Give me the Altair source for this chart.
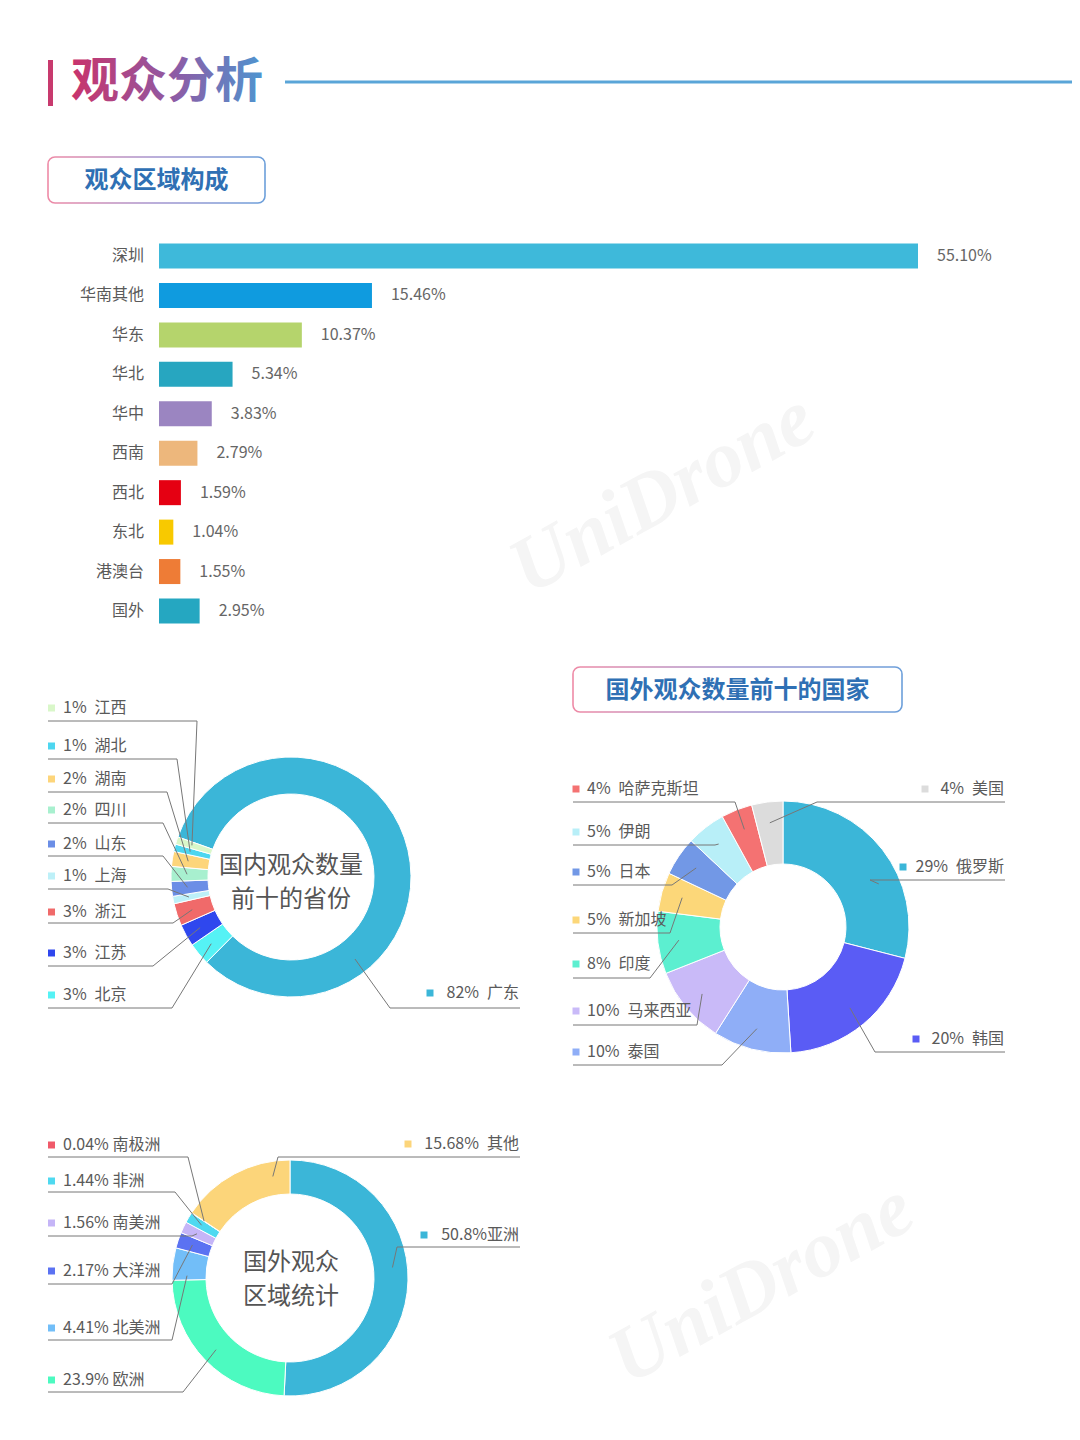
import math
import altair as alt
import pandas as pd

# ---------------- data ----------------
bar_cats = ["深圳", "华南其他", "华东", "华北", "华中", "西南", "西北", "东北", "港澳台", "国外"]
bar_vals = [55.10, 15.46, 10.37, 5.34, 3.83, 2.79, 1.59, 1.04, 1.55, 2.95]
bar_cols = ["#3EB9DA", "#0F9BDF", "#B5D46C", "#27A6C0", "#9B85C1",
            "#EDB77C", "#E50012", "#F8C900", "#EE7C36", "#25A7C1"]

prov_names = ["广东", "北京", "江苏", "浙江", "上海", "山东", "四川", "湖南", "湖北", "江西"]
prov_vals = [82, 3, 3, 3, 1, 2, 2, 2, 1, 1]
prov_cols = ["#3BB6D8", "#55F2F5", "#2F47EE", "#F06A6A", "#BDF0F8",
             "#6B8EE6", "#A8F0CF", "#FDD57A", "#4DD6F0", "#D9F7C9"]

cty_names = ["俄罗斯", "韩国", "泰国", "马来西亚", "印度", "新加坡", "日本", "伊朗", "哈萨克斯坦", "美国"]
cty_vals = [29, 20, 10, 10, 8, 5, 5, 5, 4, 4]
cty_cols = ["#3BB6D8", "#5A5CF5", "#8FAEF7", "#C9BAF8", "#5CEFD0",
            "#FCD779", "#7298E6", "#B8EFF8", "#F47272", "#DCDCDC"]

reg_names = ["亚洲", "欧洲", "北美洲", "大洋洲", "南美洲", "非洲", "南极洲", "其他"]
reg_vals = [50.8, 23.9, 4.41, 2.17, 1.56, 1.44, 0.04, 15.68]
reg_cols = ["#3BB6D8", "#4CFAC0", "#72BEF8", "#5B72F2", "#C5B5F7", "#4FD9F0", "#F05A6A", "#FCD57A"]

# ---------------- layout (page pixels) ----------------
W, H = 1064, 1424
OFF = 8


def P(v):
    return v - OFF


PX = alt.Scale(domain=[0, W], range=[0, W], nice=False, zero=False)
PY = alt.Scale(domain=[0, H], range=[0, H], nice=False, zero=False)
FONT = "Noto Sans CJK SC"
TXT = "#5a5a5a"
LFS = 16
SP = "\u2002"

# donut geometry: cx, cy, r_out, r_in, start angle (deg), anchor radius
geo_prov = (291, 877, 120, 83, -70.5, 104)
geo_cty = (783, 927, 126, 63, 0.0, 105)
geo_reg = (290, 1278, 118, 84, 0.0, 103)

# per-slice label layout: side, text_y, line_y, elbow_x, anchor fraction, square x (right side)
lay_prov = [("R", 993, 1008, 390, 0.72, 430), ("L", 995, 1008, 172, 0.5, 0),
            ("L", 953, 966, 153, 0.5, 0), ("L", 912, 923, 173, 0.5, 0),
            ("L", 876, 889, 168, 0.5, 0), ("L", 844, 856, 163, 0.5, 0),
            ("L", 810, 823, 163, 0.5, 0), ("L", 779, 792, 167, 0.5, 0),
            ("L", 746, 759, 177, 0.5, 0), ("L", 708, 721, 197, 0.5, 0)]
lay_cty = [("R", 867, 880, 870, 0.63, 903), ("R", 1039, 1052, 875, 0.5, 916),
           ("L", 1052, 1065, 722, 0.5, 0), ("L", 1011, 1025, 697, 0.5, 0),
           ("L", 964, 978, 650, 0.5, 0), ("L", 920, 933, 670, 0.5, 0),
           ("L", 872, 885, 672, 0.5, 0), ("L", 832, 845, 715, 0.5, 0),
           ("L", 789, 802, 735, 0.5, 0), ("R", 789, 802, 817, 0.5, 925)]
lay_reg = [("R", 1235, 1247, 397, 0.46, 424), ("L", 1380, 1392, 183, 0.5, 0),
           ("L", 1328, 1340, 172, 0.15, 0), ("L", 1271, 1284, 172, 0.5, 0),
           ("L", 1223, 1236, 192, 0.5, 0), ("L", 1181, 1192, 175, 0.5, 0),
           ("L", 1145, 1157, 188, 0.5, 0), ("R", 1144, 1157, 278, 0.83, 408)]
seps_reg = ["", " ", " ", " ", " ", " ", " ", SP]

# label x positions: (left square x, left text x, left line start, right text end)
lx_prov = (51.5, 63, 48, 520)
lx_cty = (576, 587, 573, 1005)
lx_reg = (51.5, 63, 48, 520)

text_rows_L, text_rows_R, sq_rows, line_rows = [], [], [], []


def add_labels(key, names, vals, cols, texts, geo, lay, lx):
    cx, cy, ro, ri, start, ar = geo
    total = float(sum(vals))
    cum = 0.0
    for i, (n, v, c, t, L) in enumerate(zip(names, vals, cols, texts, lay)):
        side, ty, ly, ex, frac, sqx = L
        a0 = start + 360.0 * cum / total
        a1 = a0 + 360.0 * v / total
        cum += v
        a = math.radians(a0 + frac * (a1 - a0))
        ax, ay = cx + ar * math.sin(a), cy - ar * math.cos(a)
        k = f"{key}-{i}"
        if side == "L":
            text_rows_L.append({"x": P(lx[1]), "y": P(ty), "t": t})
            sq_rows.append({"x": P(lx[0]), "y": P(ty), "c": c})
            x0 = lx[2]
        else:
            text_rows_R.append({"x": P(lx[3] - 1), "y": P(ty), "t": t})
            sq_rows.append({"x": P(sqx), "y": P(ty), "c": c})
            x0 = lx[3]
        for s, (px_, py_) in enumerate([(x0, ly), (ex, ly), (ax, ay)]):
            line_rows.append({"k": k, "s": s, "x": P(px_), "y": P(py_)})


add_labels("p", prov_names, prov_vals, prov_cols,
           [f"{v}%{SP}{n}" for v, n in zip(prov_vals, prov_names)], geo_prov, lay_prov, lx_prov)
add_labels("c", cty_names, cty_vals, cty_cols,
           [f"{v}%{SP}{n}" for v, n in zip(cty_vals, cty_names)], geo_cty, lay_cty, lx_cty)
add_labels("r", reg_names, reg_vals, reg_cols,
           [f"{v:g}%{s}{n}" for v, s, n in zip(reg_vals, seps_reg, reg_names)], geo_reg, lay_reg, lx_reg)


def arc_layer(names, vals, cols, geo):
    cx, cy, ro, ri, start, ar = geo
    s = math.radians(start % 360)
    df = pd.DataFrame({"name": names, "v": vals, "col": cols, "idx": list(range(len(names)))})
    return alt.Chart(df).mark_arc(radius=ro, radius2=ri, stroke="white", strokeWidth=1).encode(
        theta=alt.Theta("v:Q", stack=True, scale=alt.Scale(range=[s, s + 2 * math.pi])),
        order=alt.Order("idx:Q"),
        color=alt.Color("col:N", scale=None),
        detail="name:N",
        x=alt.value(P(cx)), y=alt.value(P(cy)),
    )


one = pd.DataFrame({"a": [0]})

# ---------------- watermark ----------------
wm = pd.DataFrame({"x": [P(663), P(762)], "y": [P(494), P(1284)], "t": ["UniDrone", "UniDrone"]})
watermark = alt.Chart(wm).mark_text(angle=331, font="Liberation Serif", fontStyle="italic", fontWeight="bold",
                                    fontSize=80, color="#F5F5F5").encode(
    x=alt.X("x:Q", scale=PX, axis=None), y=alt.Y("y:Q", scale=PY, axis=None), text="t:N")

# ---------------- title ----------------
title_bar = alt.Chart(one).mark_rect(color="#C83A6E").encode(
    x=alt.value(P(48)), x2=alt.value(P(53)), y=alt.value(P(60)), y2=alt.value(P(106)))
title_text = alt.Chart(one).mark_text(
    text="观众分析", font=FONT, fontSize=48, fontWeight="bold", align="left", baseline="middle",
    color=alt.LinearGradient(gradient="linear", x1=0, x2=1, y1=0, y2=0,
                             stops=[alt.GradientStop(color="#C9336B", offset=0),
                                    alt.GradientStop(color="#8C5CA6", offset=0.55),
                                    alt.GradientStop(color="#4E95D0", offset=1)])).encode(
    x=alt.value(P(71)), y=alt.value(P(83)))
title_rule = alt.Chart(one).mark_rule(color="#5AA5D8", strokeWidth=3).encode(
    x=alt.value(P(285)), x2=alt.value(W), y=alt.value(P(82)))

BOX_STROKE = alt.LinearGradient(gradient="linear", x1=0, x2=1, y1=0, y2=0,
                                stops=[alt.GradientStop(color="#EE8AA6", offset=0),
                                       alt.GradientStop(color="#A394CF", offset=0.5),
                                       alt.GradientStop(color="#6C9FDA", offset=1)])


def box(x0, x1, y0, y1, text):
    r = alt.Chart(one).mark_rect(fill="white", stroke=BOX_STROKE, strokeWidth=1.6, cornerRadius=7).encode(
        x=alt.value(P(x0)), x2=alt.value(P(x1)), y=alt.value(P(y0)), y2=alt.value(P(y1)))
    t = alt.Chart(one).mark_text(text=text, font=FONT, fontSize=24, fontWeight="bold",
                                 color="#2F70B4", align="center", baseline="middle").encode(
        x=alt.value(P((x0 + x1) / 2)), y=alt.value(P((y0 + y1) / 2 + 1)))
    return [r, t]


# ---------------- bars ----------------
bar_df = pd.DataFrame({"cat": bar_cats, "val": bar_vals, "col": bar_cols,
                       "lbl": [f"{v:.2f}%" for v in bar_vals]})
BX = alt.Scale(domain=[0, max(bar_vals)], range=[P(159), P(918)], nice=False, zero=True)
BY = alt.Scale(domain=bar_cats, range=[P(236.28), P(630.72)], paddingInner=0.366, paddingOuter=0.183)
bars = alt.Chart(bar_df).mark_bar().encode(
    x=alt.X("val:Q", scale=BX, axis=None), y=alt.Y("cat:N", scale=BY, axis=None),
    color=alt.Color("col:N", scale=None))
bar_vals_txt = alt.Chart(bar_df).mark_text(align="left", baseline="middle", dx=19, font=FONT,
                                           fontSize=16, color="#666666").encode(
    x=alt.X("val:Q", scale=BX, axis=None), y=alt.Y("cat:N", scale=BY, axis=None), text="lbl:N")
bar_cat_txt = alt.Chart(bar_df).mark_text(align="right", baseline="middle", font=FONT,
                                          fontSize=16, color=TXT).encode(
    x=alt.value(P(144)), y=alt.Y("cat:N", scale=BY, axis=None), text="cat:N")

# ---------------- donuts ----------------
arc1 = arc_layer(prov_names, prov_vals, prov_cols, geo_prov)
arc2 = arc_layer(cty_names, cty_vals, cty_cols, geo_cty)
arc3 = arc_layer(reg_names, reg_vals, reg_cols, geo_reg)

center1 = alt.Chart(one).mark_text(text=["国内观众数量", "前十的省份"], lineHeight=34, font=FONT,
                                   fontSize=24, color="#555555", align="center", baseline="middle").encode(
    x=alt.value(P(291)), y=alt.value(P(866)))
center3 = alt.Chart(one).mark_text(text=["国外观众", "区域统计"], lineHeight=34, font=FONT,
                                   fontSize=24, color="#555555", align="center", baseline="middle").encode(
    x=alt.value(P(291)), y=alt.value(P(1263)))

lines = alt.Chart(pd.DataFrame(line_rows)).mark_line(color="#777777", strokeWidth=1).encode(
    x=alt.X("x:Q", scale=PX, axis=None), y=alt.Y("y:Q", scale=PY, axis=None),
    detail="k:N", order="s:Q")
squares = alt.Chart(pd.DataFrame(sq_rows)).mark_square(size=49, opacity=1).encode(
    x=alt.X("x:Q", scale=PX, axis=None), y=alt.Y("y:Q", scale=PY, axis=None),
    color=alt.Color("c:N", scale=None))
txtL = alt.Chart(pd.DataFrame(text_rows_L)).mark_text(align="left", baseline="middle", font=FONT,
                                                      fontSize=LFS, color=TXT).encode(
    x=alt.X("x:Q", scale=PX, axis=None), y=alt.Y("y:Q", scale=PY, axis=None), text="t:N")
txtR = alt.Chart(pd.DataFrame(text_rows_R)).mark_text(align="right", baseline="middle", font=FONT,
                                                      fontSize=LFS, color=TXT).encode(
    x=alt.X("x:Q", scale=PX, axis=None), y=alt.Y("y:Q", scale=PY, axis=None), text="t:N")

layers = [watermark, title_bar, title_text, title_rule]
layers += box(48, 265, 157, 203, "观众区域构成")
layers += [bars, bar_vals_txt, bar_cat_txt]
layers += box(573, 902, 667, 712, "国外观众数量前十的国家")
layers += [arc1, arc2, arc3, center1, center3, lines, squares, txtL, txtR]

chart = alt.layer(*layers).resolve_scale(
    x="independent", y="independent", theta="independent", color="independent"
).properties(
    width=W, height=H, autosize=alt.AutoSizeParams(type="none"), padding=0
).configure_view(stroke=None)

chart.save("out.html", embed_options={"renderer": "svg", "actions": False})
